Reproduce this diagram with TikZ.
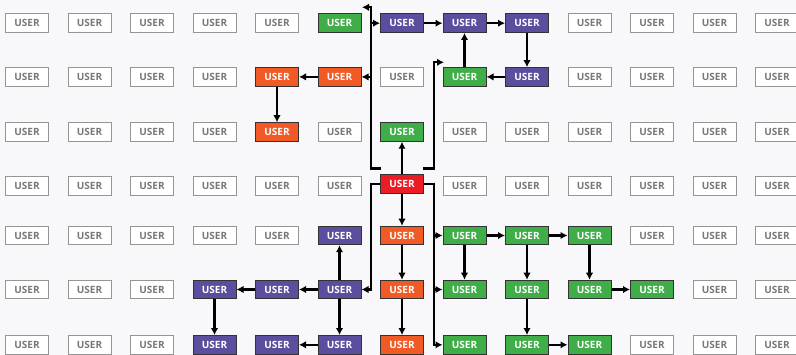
\documentclass[tikz,border=0pt]{standalone}
\usepackage{fontspec}
\setmainfont{Open Sans}
\usetikzlibrary{arrows.meta}
\definecolor{bg}{HTML}{F8F8FA}
\definecolor{boxgray}{HTML}{959595}
\definecolor{textgray}{HTML}{787878}
\definecolor{edge}{HTML}{333333}
\definecolor{ugreen}{HTML}{3FAE49}
\definecolor{upurple}{HTML}{5C4E9E}
\definecolor{uorange}{HTML}{F15A24}
\definecolor{ured}{HTML}{EC1C24}
\tikzset{
  box/.style={draw=boxgray, fill=white, line width=1pt, minimum width=43pt, minimum height=18.5pt, inner sep=0pt, font=\fontsize{10}{10}\selectfont\bfseries, text=textgray},
  gbox/.style={fill=ugreen, draw=edge, text=white},
  pbox/.style={fill=upurple, draw=edge, text=white},
  obox/.style={fill=uorange, draw=edge, text=white},
  rbox/.style={fill=ured, draw=edge, text=white, yshift=2pt},
  arr/.style={line width=2.2pt, -{Latex[length=7pt,width=7.5pt]}},
  c-5-0/.style=gbox, c-7-1/.style=gbox, c-6-2/.style=gbox, c-7-4/.style=gbox, c-8-4/.style=gbox, c-9-4/.style=gbox,
  c-7-5/.style=gbox, c-8-5/.style=gbox, c-9-5/.style=gbox, c-10-5/.style=gbox, c-7-6/.style=gbox, c-8-6/.style=gbox, c-9-6/.style=gbox,
  c-6-0/.style=pbox, c-7-0/.style=pbox, c-8-0/.style=pbox, c-8-1/.style=pbox, c-5-4/.style=pbox, c-3-5/.style=pbox,
  c-4-5/.style=pbox, c-5-5/.style=pbox, c-3-6/.style=pbox, c-4-6/.style=pbox, c-5-6/.style=pbox,
  c-4-1/.style=obox, c-5-1/.style=obox, c-4-2/.style=obox, c-6-4/.style=obox, c-6-5/.style=obox, c-6-6/.style=obox,
  c-6-3/.style=rbox
}
\begin{document}
\begin{tikzpicture}[x=1pt,y=-1pt]
\fill[bg] (0,0) rectangle (796,355);
\useasboundingbox (0,0) rectangle (796,355);
\foreach \r/\y in {0/23.2,1/76.9,2/132,3/186.2,4/235.5,5/289.5,6/344.8}{
  \foreach \c in {0,...,12}{
    \edef\mk{\noexpand\node[box,c-\c-\r/.try] (n-\c-\r) at (27+62.5*\c,\y) {USER};}
    \mk
  }
}
% centre column
\draw[arr] (n-6-3.north) -- (n-6-2.south);
\draw[arr] (n-6-3.south) -- (n-6-4.north);
\draw[arr] (n-6-4.south) -- (n-6-5.north);
\draw[arr] (n-6-5.south) -- (n-6-6.north);
% top right loop
\draw[arr] (n-6-0.east) -- (n-7-0.west);
\draw[arr] (n-7-0.east) -- (n-8-0.west);
\draw[arr] (n-8-0.south) -- (n-8-1.north);
\draw[arr] (n-8-1.west) -- (n-7-1.east);
\draw[arr] (n-7-1.north) -- (n-7-0.south);
% top left
\draw[arr] (n-5-1.west) -- (n-4-1.east);
\draw[arr] (n-4-1.south) -- (n-4-2.north);
% bottom left
\draw[arr] (n-5-5.north) -- (n-5-4.south);
\draw[arr] (n-5-5.west) -- (n-4-5.east);
\draw[arr] (n-4-5.west) -- (n-3-5.east);
\draw[arr] (n-3-5.south) -- (n-3-6.north);
\draw[arr] (n-5-5.south) -- (n-5-6.north);
\draw[arr] (n-5-6.west) -- (n-4-6.east);
% bottom right
\draw[arr] (n-7-4.east) -- (n-8-4.west);
\draw[arr] (n-8-4.east) -- (n-9-4.west);
\draw[arr] (n-7-4.south) -- (n-7-5.north);
\draw[arr] (n-8-4.south) -- (n-8-5.north);
\draw[arr] (n-9-4.south) -- (n-9-5.north);
\draw[arr] (n-9-5.east) -- (n-10-5.west);
\draw[arr] (n-8-5.south) -- (n-8-6.north);
\draw[arr] (n-8-6.east) -- (n-9-6.west);
% brackets above red
\coordinate (lbs) at (381,168.5);
\coordinate (lbt) at (371,7.3);
\coordinate (lbe) at (362,7.3);
\draw[arr] (lbs) -| (lbt) -- (lbe);
\draw[arr] (lbt |- n-6-0.west) -- (n-6-0.west);
\draw[arr] (lbt |- n-5-1.east) -- (n-5-1.east);
\coordinate (rbs) at (423.3,168.5);
\coordinate (rbt) at (434,62.3);
\coordinate (rbe) at (444,62.3);
\draw[arr] (rbs) -| (rbt) -- (rbe);
% red side branches
\draw[arr] (n-6-3.west) -- ++(-9,0) |- (n-5-5.east);
\draw[arr] (n-6-3.east) -- ++(10,0) coordinate (rr) |- (n-7-6.west);
\draw[arr] (rr |- n-7-4.west) -- (n-7-4.west);
\draw[arr] (rr |- n-7-5.west) -- (n-7-5.west);
\end{tikzpicture}
\end{document}
